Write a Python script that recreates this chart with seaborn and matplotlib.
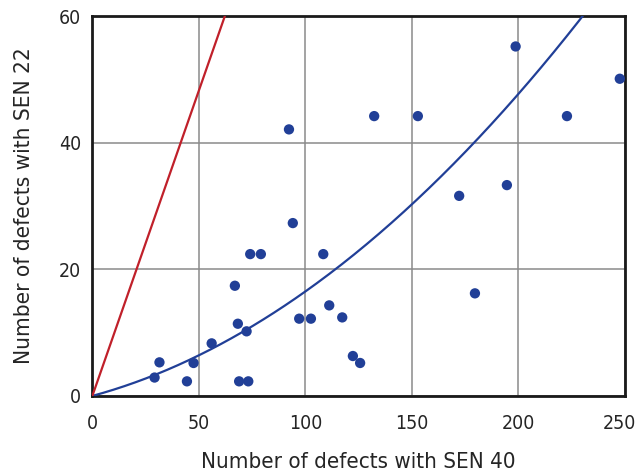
import numpy as np
import pandas as pd
import matplotlib
matplotlib.use("Agg")
import matplotlib.pyplot as plt
import matplotlib.transforms as mtransforms
import seaborn as sns

# Data
sen40 = [29.2, 31.5, 44.4, 47.5, 56.0, 66.9, 68.3, 68.9, 72.4, 73.2,
         74.1, 79.1, 92.3, 94.1, 97.1, 102.6, 108.4, 111.2, 117.3, 122.3,
         125.7, 132.3, 152.8, 172.2, 179.6, 194.6, 198.7, 222.8, 247.6]
sen22 = [2.9, 5.3, 2.3, 5.2, 8.3, 17.4, 11.4, 2.3, 10.2, 2.3,
         22.4, 22.4, 42.1, 27.3, 12.2, 12.2, 22.4, 14.3, 12.4, 6.3,
         5.2, 44.2, 44.2, 31.6, 16.2, 33.3, 55.2, 44.2, 50.1]

# Reference line (red) endpoints and trend curve (blue) coefficients
red_x = [0, 62.2]
red_y = [0, 60]
trend_a = 0.0915      # linear coefficient
trend_b = 0.000735    # quadratic coefficient

xticks = [0, 50, 100, 150, 200, 250]
yticks = [0, 20, 40, 60]
xlabel = "Number of defects with SEN 40"
ylabel = "Number of defects with SEN 22"

sns.set_theme(style="white")
plt.rcParams['font.family'] = ['DejaVu Sans']
plt.rcParams['font.stretch'] = 'condensed'

fig = plt.figure(figsize=(6.37, 4.73), dpi=100)
ax = fig.add_axes([0.145, 0.163, 0.836, 0.803])

navy = "#213f97"
red = "#c0202a"
txt = "#252525"

df = pd.DataFrame({"x": sen40, "y": sen22})
tx = np.linspace(0, 250, 300)
ty = trend_a * tx + trend_b * tx ** 2
trend = pd.DataFrame({"x": tx, "y": ty})
sns.lineplot(data=trend, x="x", y="y", ax=ax, color=navy, lw=1.6, zorder=3)
sns.lineplot(x=red_x, y=red_y, ax=ax, color=red, lw=1.6, zorder=3)
sns.scatterplot(data=df, x="x", y="y", ax=ax, color=navy, s=55,
                edgecolor="none", zorder=4)

ax.set_xlim(0, 250)
ax.set_ylim(0, 60)
ax.set_xticks(xticks)
ax.set_yticks(yticks)
ax.grid(True, color="#8a8a8a", lw=1.1)
ax.set_axisbelow(True)
for s in ax.spines.values():
    s.set_visible(True)
    s.set_color("#1a1a1a")
    s.set_linewidth(2)
ax.tick_params(axis="x", labelsize=14, colors=txt, length=0, pad=13)
ax.tick_params(axis="y", labelsize=14, colors=txt, length=0, pad=8)
ax.set_xlabel(xlabel, fontsize=16, color=txt, labelpad=14)
ax.set_ylabel(ylabel, fontsize=16.2, color=txt, labelpad=18)

# nudge the last x tick label left so it stays inside the figure
last = ax.get_xticklabels()[-1]
last.set_transform(last.get_transform() +
                   mtransforms.ScaledTranslation(-0.05, 0, fig.dpi_scale_trans))

fig.savefig("out.png", dpi=100)
